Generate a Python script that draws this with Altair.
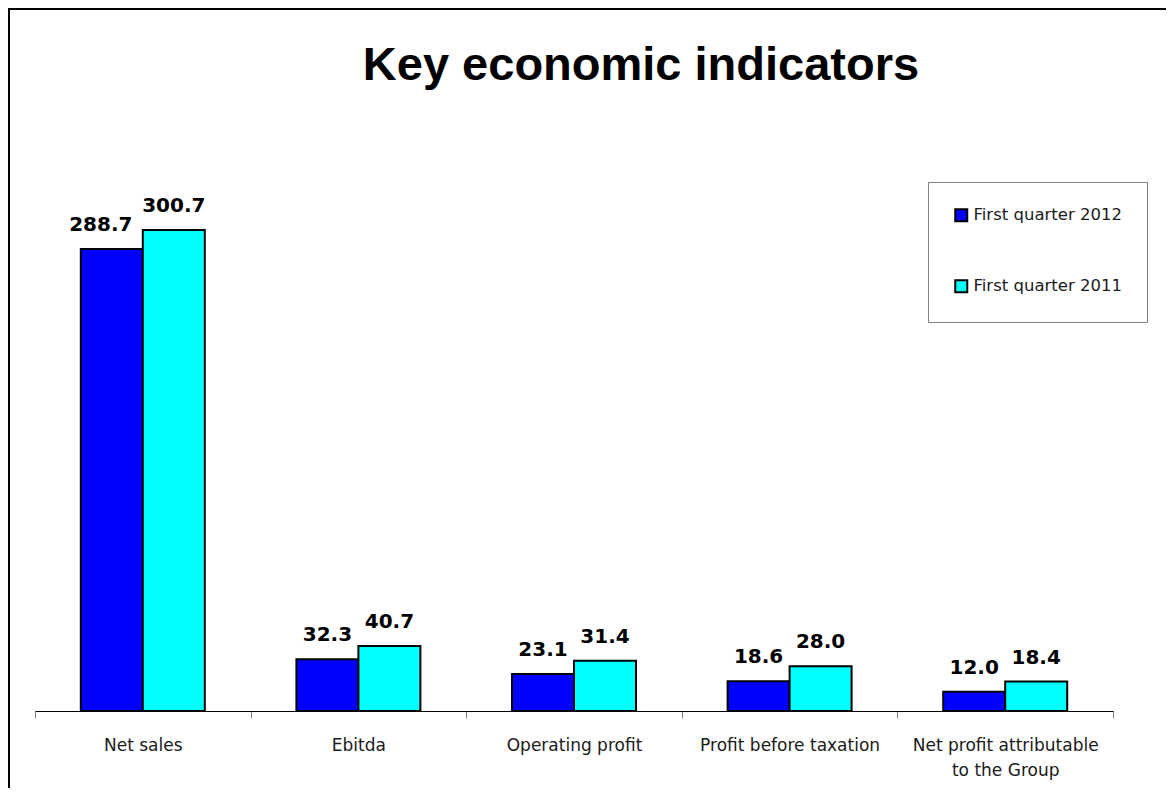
import altair as alt
import pandas as pd

TITLE = "Key economic indicators"
categories = ["Net sales", "Ebitda", "Operating profit", "Profit before taxation",
              "Net profit attributable to the Group"]
series = ["First quarter 2012", "First quarter 2011"]
q1_2012 = [288.7, 32.3, 23.1, 18.6, 12.0]
q1_2011 = [300.7, 40.7, 31.4, 28.0, 18.4]
colors = ["#0000FF", "#00FFFF"]

rows = []
for c, a, b in zip(categories, q1_2012, q1_2011):
    rows.append({"category": c, "series": series[0], "value": a})
    rows.append({"category": c, "series": series[1], "value": b})
df = pd.DataFrame(rows)

W, H = 1078, 560
PAD = {"left": 27, "top": 143, "right": 53, "bottom": 77}

label_expr = ("datum.value == 'Net profit attributable to the Group' ? "
              "['Net profit attributable', 'to the Group'] : datum.value")

x_enc = alt.X(
    "category:N", sort=categories, title=None,
    scale=alt.Scale(paddingInner=0, paddingOuter=0),
    axis=alt.Axis(labelAngle=0, tickBand="extent", domainColor="black", domainWidth=1,
                  tickColor="#808080", tickSize=7, tickWidth=1,
                  labelFont="DejaVu Sans", labelFontSize=17, labelColor="#1a1a1a",
                  labelPadding=19, labelBaseline="top", labelLineHeight=25,
                  labelLimit=400, labelOverlap=False, labelExpr=label_expr, grid=False),
)
y_enc = alt.Y("value:Q", scale=alt.Scale(domain=[0, 350]), axis=None)
xo_enc = alt.XOffset("series:N", sort=series,
                     scale=alt.Scale(paddingInner=0, paddingOuter=0.739))

base = alt.Chart(df)

bars = base.mark_bar(stroke="black", strokeWidth=2).encode(
    x=x_enc, y=y_enc, xOffset=xo_enc,
    color=alt.Color(
        "series:N", sort=series,
        scale=alt.Scale(domain=series, range=colors),
        legend=alt.Legend(title=None, orient="none", legendX=893, legendY=31, padding=25,
                          strokeColor="#808080", fillColor="white", symbolType="square",
                          symbolSize=144, symbolStrokeColor="black", symbolStrokeWidth=2,
                          symbolOpacity=1, labelFont="DejaVu Sans", labelFontSize=16.5,
                          labelColor="#1a1a1a", labelOffset=4, rowPadding=50),
    ),
)

shift_cond = "datum.category == 'Net sales' && datum.series == 'First quarter 2012'"
text_props = dict(font="DejaVu Sans", fontWeight="bold", fontSize=20,
                  baseline="alphabetic", dy=-18, color="black")
labels = base.mark_text(**text_props).encode(
    x=x_enc, y=y_enc, xOffset=xo_enc, text=alt.Text("value:Q", format=".1f")
).transform_filter("!(" + shift_cond + ")")
labels_shift = base.mark_text(dx=-11, **text_props).encode(
    x=x_enc, y=y_enc, xOffset=xo_enc, text=alt.Text("value:Q", format=".1f")
).transform_filter(shift_cond)

frame = alt.Chart(pd.DataFrame({"f": [0]})).mark_rect(
    fill="transparent", stroke="black", strokeWidth=2
).encode(x=alt.value(-26), y=alt.value(-142), x2=alt.value(3000), y2=alt.value(3000))

title = alt.Chart(pd.DataFrame({"t": [TITLE]})).mark_text(
    font="Liberation Sans", fontWeight="bold", fontSize=47, align="center",
    baseline="alphabetic", color="black"
).encode(text="t:N", x=alt.value(606), y=alt.value(-71))

chart = alt.layer(frame, title, bars, labels, labels_shift).properties(
    width=W, height=H, autosize=alt.AutoSizeParams(type="none"), padding=PAD,
    background="white",
).configure_view(stroke=None)

chart.save("out.html", embed_options={"renderer": "svg", "actions": False})
